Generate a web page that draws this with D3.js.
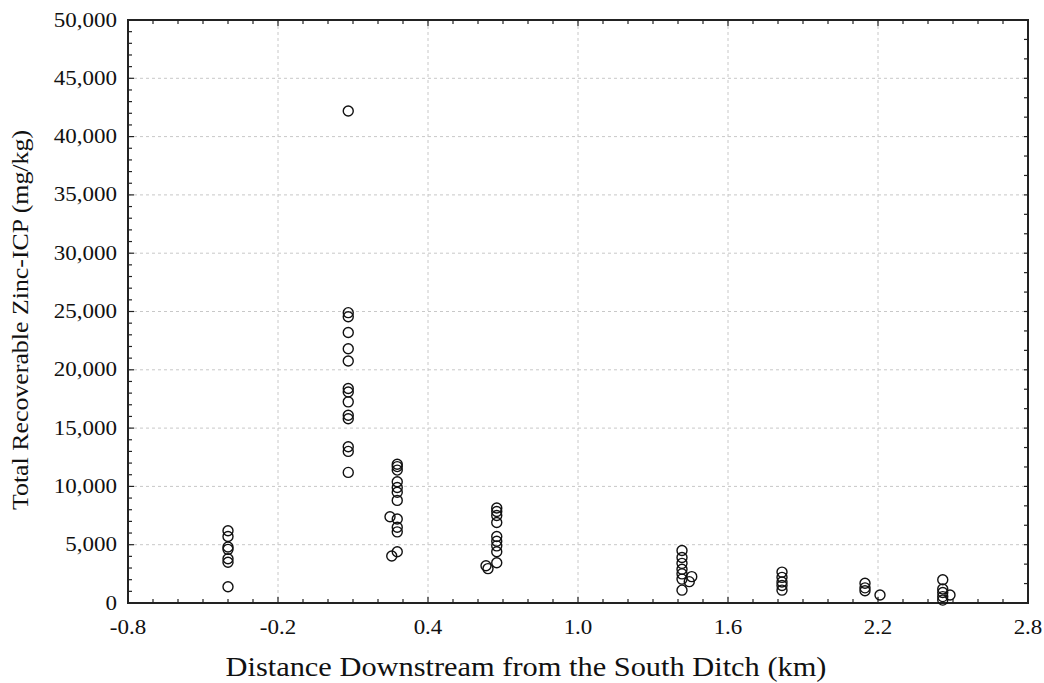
<!DOCTYPE html>
<html>
<head>
<meta charset="utf-8">
<script src="https://cdn.jsdelivr.net/npm/d3@7"></script>
<style>
  body { margin: 0; background: #fff; }
  svg { display: block; }
  text { font-family: "Liberation Serif", "Times New Roman", serif; fill: #111; }
</style>
</head>
<body>
<svg width="1044" height="683"></svg>
<script>
// sampling sites (km downstream) and zinc values at each one
var sites = [-0.4, 0.081, 0.277, 0.675, 1.416, 1.816, 2.148, 2.459];
var zincBySite = [
  [6200, 5700, 4800, 4600, 3800, 3500, 1400],
  [42200, 24900, 24550, 23200, 21800, 20750, 18400, 18100, 17250, 16100, 15800, 13400, 13000, 11200],
  [11900, 11700, 11400, 10400, 9900, 9500, 8800, 7200, 6500, 6100, 4400],
  [8150, 7850, 7500, 6900, 5700, 5300, 4900, 4400, 3450],
  [4500, 3900, 3400, 2900, 2500, 2050, 1100],
  [2650, 2200, 1800, 1500, 1100],
  [1700, 1300, 1050],
  [2000, 1200, 900, 550, 250]
];
// a few samples sitting a little off the main sites
var extraDistance = [0.248, 0.255, 0.632, 0.64, 1.455, 1.445, 2.208, 2.488];
var extraZinc = [7400, 4030, 3200, 2950, 2260, 1830, 690, 690];

var xTicks = [-0.8, -0.2, 0.4, 1.0, 1.6, 2.2, 2.8];
var yTicks = [0, 5000, 10000, 15000, 20000, 25000, 30000, 35000, 40000, 45000, 50000];

var points = [];
sites.forEach(function(s, i) {
  zincBySite[i].forEach(function(v) { points.push({ x: s, y: v }); });
});
extraDistance.forEach(function(d, i) { points.push({ x: d, y: extraZinc[i] }); });

var plotLeft = 128, plotRight = 1028, plotTop = 20, plotBottom = 603;
var svg = d3.select('svg');

var x = d3.scaleLinear().domain([-0.8, 2.8]).range([plotLeft, plotRight]);
var y = d3.scaleLinear().domain([0, 50000]).range([plotBottom, plotTop]);

// dashed grid
svg.append('g')
  .selectAll('line')
  .data(xTicks.slice(1, -1))
  .enter().append('line')
  .attr('x1', function(d) { return x(d); })
  .attr('x2', function(d) { return x(d); })
  .attr('y1', plotTop).attr('y2', plotBottom)
  .attr('stroke', '#c8c8c8').attr('stroke-dasharray', '3,3');

svg.append('g')
  .selectAll('line')
  .data(yTicks.slice(1, -1))
  .enter().append('line')
  .attr('y1', function(d) { return y(d); })
  .attr('y2', function(d) { return y(d); })
  .attr('x1', plotLeft).attr('x2', plotRight)
  .attr('stroke', '#c8c8c8').attr('stroke-dasharray', '3,3');

// minor ticks all round
var minorX = d3.range(-0.8, 2.8001, 0.1);
var minorYLeft = d3.range(0, 50001, 1000);
var minorYRight = d3.range(0, 50001, 50000 / 30);

var ticks = svg.append('g').attr('stroke', '#222').attr('stroke-width', 1.2);
minorX.forEach(function(d) {
  var major = xTicks.some(function(t) { return Math.abs(t - d) < 1e-6; });
  var len = major ? 6 : 4;
  ticks.append('line').attr('x1', x(d)).attr('x2', x(d)).attr('y1', plotBottom).attr('y2', plotBottom - len);
  ticks.append('line').attr('x1', x(d)).attr('x2', x(d)).attr('y1', plotTop).attr('y2', plotTop + len);
});
minorYLeft.forEach(function(d) {
  var len = d % 5000 === 0 ? 6 : 4;
  ticks.append('line').attr('y1', y(d)).attr('y2', y(d)).attr('x1', plotLeft).attr('x2', plotLeft + len);
});
minorYRight.forEach(function(d) {
  ticks.append('line').attr('y1', y(d)).attr('y2', y(d)).attr('x1', plotRight).attr('x2', plotRight - 4);
});

// tick labels (plain hyphen for negatives, like the original)
svg.append('g')
  .selectAll('text')
  .data(xTicks)
  .enter().append('text')
  .attr('transform', function(d) { return 'translate(' + x(d) + ',634) scale(1.15,1)'; })
  .attr('text-anchor', 'middle')
  .style('font-size', '20px')
  .text(function(d) { return d.toFixed(1); });

svg.append('g')
  .selectAll('text')
  .data(yTicks)
  .enter().append('text')
  .attr('transform', function(d) { return 'translate(117,' + (y(d) + 6.5) + ') scale(1.15,1)'; })
  .attr('text-anchor', 'end')
  .style('font-size', '20px')
  .text(function(d) { return d3.format(',')(d); });

// frame
svg.append('rect')
  .attr('x', plotLeft).attr('y', plotTop)
  .attr('width', plotRight - plotLeft).attr('height', plotBottom - plotTop)
  .attr('fill', 'none').attr('stroke', '#222').attr('stroke-width', 2);

// points
svg.append('g')
  .selectAll('circle')
  .data(points)
  .enter().append('circle')
  .attr('cx', function(d) { return x(d.x); })
  .attr('cy', function(d) { return y(d.y); })
  .attr('r', 5)
  .attr('fill', 'none')
  .attr('stroke', '#111')
  .attr('stroke-width', 1.4);

// axis titles
svg.append('text')
  .attr('x', 526).attr('y', 676)
  .attr('text-anchor', 'middle')
  .attr('textLength', 601).attr('lengthAdjust', 'spacingAndGlyphs')
  .style('font-size', '27px')
  .text('Distance Downstream from the South Ditch (km)');

svg.append('text')
  .attr('transform', 'translate(28,320) scale(1.2,1) rotate(-90)')
  .attr('text-anchor', 'middle')
  .attr('textLength', 380).attr('lengthAdjust', 'spacingAndGlyphs')
  .style('font-size', '20px')
  .text('Total Recoverable Zinc-ICP (mg/kg)');
</script>
</body>
</html>
